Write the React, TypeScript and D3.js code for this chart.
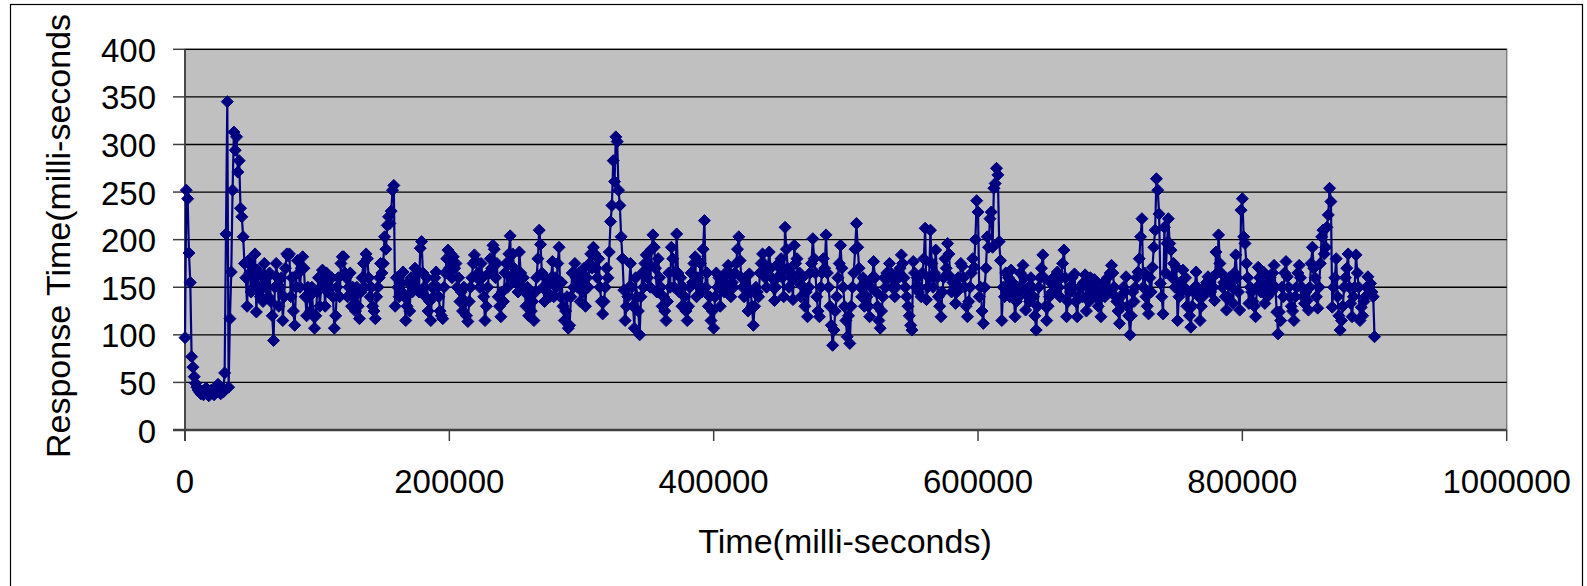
import React from "react";
import * as d3 from "d3";

// Response time samples (ms), one per second of elapsed test time.
const SAMPLE_INTERVAL_MS = 1000;

const responseTimes: number[] = [
  97, 252, 243, 186, 155, 77, 66, 56, 49, 45,
  42, 40, 38, 41, 37, 39, 44, 40, 36, 38,
  42, 39, 37, 41, 45, 48, 42, 38, 44, 40,
  60, 206, 345, 45, 117, 166, 252, 313, 294, 308,
  271, 283, 233, 224, 203, 175, 160, 130, 178, 165,
  145, 172, 150, 185, 124, 168, 150, 140, 162, 135,
  175, 150, 160, 140, 165, 135, 120, 94, 150, 175,
  160, 130, 150, 160, 115, 140, 170, 185, 183, 185,
  140, 160, 125, 110, 150, 178, 165, 150, 170, 182,
  170, 140, 120, 150, 140, 125, 150, 120, 107, 120,
  145, 160, 130, 150, 168, 160, 130, 165, 145, 160,
  150, 160, 140, 107, 120, 150, 160, 140, 175, 182,
  182, 165, 160, 140, 150, 165, 130, 150, 140, 125,
  150, 130, 117, 145, 160, 175, 150, 185, 180, 160,
  140, 150, 130, 125, 117, 140, 150, 160, 175, 165,
  175, 203, 190, 215, 224, 217, 230, 252, 257, 130,
  160, 150, 140, 155, 145, 166, 140, 115, 130, 155,
  125, 160, 145, 150, 170, 150, 165, 145, 191, 198,
  165, 150, 140, 160, 125, 135, 115, 150, 140, 160,
  166, 150, 140, 125, 120, 117, 150, 165, 180, 189,
  170, 185, 160, 182, 170, 175, 150, 160, 135, 145,
  125, 150, 135, 120, 114, 135, 150, 160, 175, 184,
  178, 160, 165, 150, 175, 160, 140, 115, 130, 150,
  165, 180, 170, 194, 190, 160, 175, 140, 130, 119,
  145, 135, 165, 175, 150, 185, 204, 160, 185, 170,
  155, 165, 145, 187, 165, 150, 160, 145, 130, 150,
  120, 140, 125, 135, 115, 145, 160, 180, 210, 195,
  165, 150, 135, 160, 145, 155, 140, 160, 177, 140,
  160, 150, 175, 192, 140, 155, 130, 115, 125, 140,
  107, 110, 140, 165, 150, 175, 160, 150, 165, 135,
  155, 145, 170, 130, 160, 150, 175, 185, 170, 192,
  185, 170, 160, 180, 150, 135, 122, 135, 150, 170,
  160, 187, 219, 236, 283, 261, 308, 303, 252, 236,
  203, 180, 147, 115, 130, 140, 150, 175, 150, 130,
  107, 160, 140, 125, 100, 140, 165, 150, 175, 184,
  160, 175, 150, 190, 205, 192, 170, 145, 180, 160,
  150, 130, 140, 125, 115, 135, 165, 150, 192, 180,
  150, 165, 206, 165, 145, 160, 130, 150, 140, 125,
  115, 130, 150, 165, 155, 175, 182, 140, 160, 150,
  175, 145, 190, 220, 150, 165, 130, 140, 115, 125,
  107, 140, 165, 150, 160, 130, 150, 160, 145, 165,
  150, 173, 165, 140, 155, 150, 165, 175, 190, 203,
  178, 160, 150, 140, 160, 150, 125, 164, 145, 130,
  110, 130, 150, 145, 140, 165, 175, 185, 175, 160,
  150, 170, 187, 170, 160, 150, 136, 150, 160, 175,
  170, 180, 160, 140, 213, 190, 170, 150, 165, 160,
  137, 194, 175, 180, 155, 165, 140, 160, 150, 130,
  145, 119, 150, 165, 175, 201, 180, 165, 140, 125,
  119, 150, 165, 180, 170, 205, 165, 150, 130, 110,
  89, 105, 125, 140, 160, 175, 194, 170, 150, 130,
  115, 98, 120, 91, 130, 150, 165, 190, 217, 192,
  170, 150, 140, 160, 130, 155, 140, 130, 119, 150,
  160, 177, 160, 145, 130, 115, 107, 125, 140, 160,
  150, 165, 160, 175, 165, 150, 160, 140, 150, 165,
  160, 170, 184, 175, 160, 150, 140, 130, 120, 110,
  105, 177, 165, 150, 160, 145, 150, 140, 165, 180,
  212, 137, 150, 160, 210, 175, 150, 165, 189, 160,
  140, 130, 119, 145, 160, 180, 170, 196, 185, 161,
  145, 155, 150, 133, 145, 160, 150, 175, 172, 160,
  150, 130, 119, 135, 150, 165, 180, 171, 200, 241,
  229, 140, 150, 125, 112, 150, 170, 203, 192, 222,
  229, 192, 254, 259, 275, 268, 198, 178, 115, 150,
  140, 165, 150, 160, 140, 168, 155, 145, 119, 135,
  150, 140, 165, 150, 173, 160, 126, 145, 150, 135,
  160, 150, 140, 120, 105, 130, 150, 160, 170, 184,
  160, 130, 115, 130, 140, 155, 145, 160, 150, 145,
  166, 150, 140, 160, 175, 189, 160, 119, 135, 150,
  145, 160, 150, 164, 135, 119, 140, 150, 150, 140,
  155, 163, 125, 150, 135, 160, 145, 150, 158, 140,
  155, 130, 145, 119, 145, 155, 140, 150, 160, 145,
  165, 173, 165, 150, 140, 135, 125, 112, 140, 130,
  150, 145, 161, 130, 120, 100, 120, 145, 135, 150,
  160, 166, 180, 203, 222, 150, 165, 140, 130, 122,
  160, 145, 171, 192, 210, 264, 252, 227, 154, 140,
  122, 213, 165, 196, 222, 196, 189, 160, 175, 150,
  171, 115, 140, 155, 145, 168, 150, 160, 130, 145,
  120, 108, 130, 145, 150, 166, 150, 140, 115, 130,
  140, 150, 145, 155, 161, 150, 145, 160, 150, 136,
  187, 165, 205, 175, 165, 150, 155, 140, 126, 140,
  160, 154, 150, 133, 165, 184, 160, 145, 126, 231,
  243, 203, 196, 175, 160, 133, 150, 145, 135, 130,
  119, 150, 171, 160, 145, 150, 166, 133, 150, 140,
  155, 160, 145, 165, 173, 150, 124, 101, 124, 115,
  150, 140, 165, 177, 161, 150, 140, 130, 125, 115,
  140, 150, 165, 173, 160, 150, 140, 133, 145, 136,
  126, 150, 175, 192, 170, 160, 140, 128, 150, 175,
  203, 210, 185, 192, 213, 226, 254, 240, 129, 150,
  160, 180, 140, 120, 105, 115, 130, 150, 160, 170,
  185, 150, 133, 119, 140, 150, 184, 165, 150, 115,
  129, 120, 135, 140, 150, 161, 150, 154, 145, 140,
  98,
];

const yTicks = [0, 50, 100, 150, 200, 250, 300, 350, 400];
const xTicks = [0, 200000, 400000, 600000, 800000, 1000000];

const xTitle = "Time(milli-seconds)";
const yTitle = "Response Time(milli-seconds";

const FONT = "'Liberation Sans', Arial, Helvetica, sans-serif";
const NAVY = "#000080";

export default function App() {
  const width = 1587;
  const height = 586;
  const plot = { left: 185, right: 1506.7, top: 49.3, bottom: 430 };

  const x = d3.scaleLinear().domain([0, 1000000]).range([plot.left, plot.right]);
  const y = d3.scaleLinear().domain([0, 400]).range([plot.bottom, plot.top]);

  const points: [number, number][] = responseTimes.map((v, i) => [
    x(i * SAMPLE_INTERVAL_MS),
    y(v),
  ]);
  const linePath = d3.line()(points) ?? "";
  const m = 6;
  const diamond = `M0,${-m}L${m},0L0,${m}L${-m},0Z`;

  return (
    <svg
      width={width}
      height={height}
      style={{ position: "absolute", left: 0, top: 0, background: "#fff" }}
      fontFamily={FONT}
    >
      {/* chart frame */}
      <rect x={10.5} y={4.5} width={1572} height={600} fill="#fff" stroke="#000" strokeWidth={1.2} />

      {/* plot area */}
      <rect
        x={plot.left}
        y={plot.top}
        width={plot.right - plot.left}
        height={plot.bottom - plot.top}
        fill="#C0C0C0"
        stroke="#808080"
        strokeWidth={1.5}
      />

      {/* horizontal gridlines */}
      {yTicks
        .filter((t) => t > 0)
        .map((t) => (
          <line
            key={`g${t}`}
            x1={plot.left}
            x2={plot.right}
            y1={y(t)}
            y2={y(t)}
            stroke="#000"
            strokeWidth={1.3}
          />
        ))}

      {/* y axis */}
      <line x1={plot.left} x2={plot.left} y1={plot.top} y2={plot.bottom + 11} stroke="#404040" strokeWidth={1.8} />
      {yTicks.map((t) => (
        <g key={`yt${t}`}>
          <line x1={plot.left - 12} x2={plot.left} y1={y(t)} y2={y(t)} stroke="#404040" strokeWidth={1.5} />
          <text x={156} y={y(t) + 12.5} textAnchor="end" fontSize={33} fill="#000">
            {t}
          </text>
        </g>
      ))}

      {/* x axis */}
      <line x1={plot.left - 12} x2={plot.right} y1={plot.bottom} y2={plot.bottom} stroke="#404040" strokeWidth={2.5} />
      {xTicks.map((t) => (
        <g key={`xt${t}`}>
          <line x1={x(t)} x2={x(t)} y1={plot.bottom} y2={plot.bottom + 11} stroke="#404040" strokeWidth={1.5} />
          <text x={x(t)} y={493} textAnchor="middle" fontSize={33} fill="#000">
            {t}
          </text>
        </g>
      ))}

      {/* series */}
      <path d={linePath} fill="none" stroke={NAVY} strokeWidth={2.2} strokeLinejoin="round" />
      {points.map(([px, py], i) => (
        <path key={i} d={diamond} transform={`translate(${px},${py})`} fill={NAVY} stroke={NAVY} strokeWidth={1} />
      ))}

      {/* axis titles */}
      <text x={845} y={553} textAnchor="middle" fontSize={34} fill="#000">
        {xTitle}
      </text>
      <text transform="translate(70,458) rotate(-90)" textAnchor="start" fontSize={34} fill="#000">
        {yTitle}
      </text>
    </svg>
  );
}
